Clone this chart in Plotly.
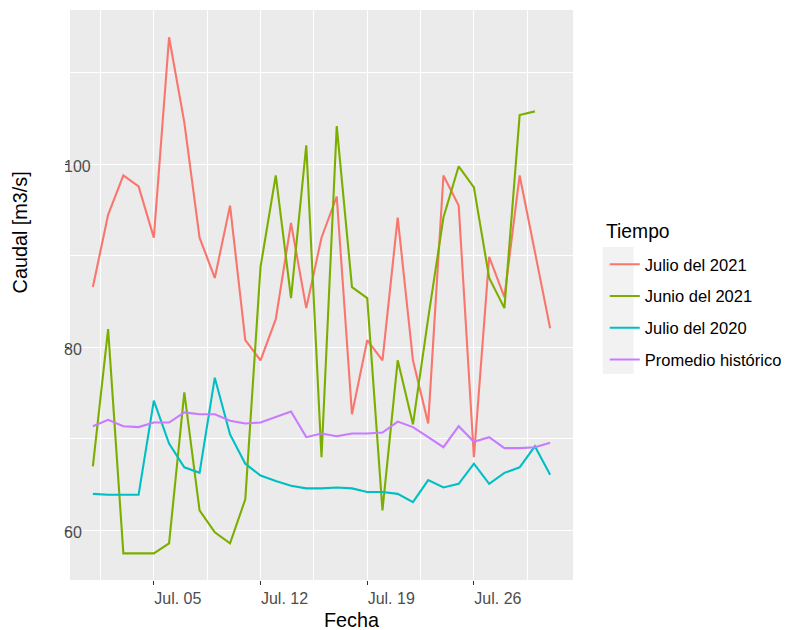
import pandas as pd
import plotly.graph_objects as go

fechas = pd.date_range("2021-07-01", "2021-07-31", freq="D")

julio_2021 = [86.6, 94.5, 98.8, 97.6, 92.0, 113.9, 104.6, 92.0, 87.6, 95.5,
              80.8, 78.6, 83.1, 93.6, 84.3, 92.0, 96.5, 72.7, 80.8, 78.6,
              94.2, 78.6, 71.7, 98.8, 95.5, 68.0, 89.9, 85.5, 98.8, 90.5, 82.1]
junio_2021 = [67.0, 82.0, 57.5, 57.5, 57.5, 58.6, 75.1, 62.2, 59.8, 58.6,
              63.4, 88.8, 98.8, 85.4, 102.1, 68.0, 104.2, 86.6, 85.4, 62.2,
              78.6, 71.6, 83.2, 94.2, 99.8, 97.5, 87.6, 84.3, 105.4, 105.8]
julio_2020 = [64.0, 63.9, 63.9, 63.9, 74.2, 69.5, 66.9, 66.3, 76.7, 70.5,
              67.3, 66.0, 65.4, 64.9, 64.6, 64.6, 64.7, 64.6, 64.2, 64.2,
              64.0, 63.1, 65.5, 64.7, 65.1, 67.3, 65.1, 66.3, 66.9, 69.2, 66.1]
promedio = [71.4, 72.1, 71.4, 71.3, 71.8, 71.8, 72.9, 72.7, 72.7, 72.0,
            71.7, 71.8, 72.4, 73.0, 70.2, 70.6, 70.3, 70.6, 70.6, 70.7,
            71.9, 71.3, 70.2, 69.1, 71.4, 69.7, 70.2, 69.0, 69.0, 69.1, 69.6]

series_names = ["Julio del 2021", "Junio del 2021", "Julio del 2020", "Promedio histórico"]
series_values = [julio_2021, junio_2021, julio_2020, promedio]
colors = ["#F8766D", "#7CAE00", "#00BFC4", "#C77CFF"]

y_ticks = [60, 80, 100]
y_tick_labels = ["60", "80", "100"]

FONT = "Liberation Sans, Arial, sans-serif"
DAY = 86400000

# page has an 8px body margin: figure is 781x622, plot area at (62..569, 2..572)
W, H = 781, 622
L, R, T, B = 62, 212, 2, 50
PW, PH = W - L - R, H - T - B


def px_x(x):  # figure x pixel -> paper
    return (x - L) / PW


def px_y(y):  # figure y pixel -> paper
    return (H - B - y) / PH


fig = go.Figure()
for name, vals, col in zip(series_names, series_values, colors):
    fig.add_trace(go.Scatter(
        x=fechas[:len(vals)], y=vals, mode="lines", name=name,
        legendgroup=name,
        line=dict(color=col, width=2.1),
    ))

annotations = [
    dict(text="Fecha", xref="paper", yref="paper", x=0.5, y=px_y(612),
         xanchor="left", yanchor="middle", showarrow=False,
         font=dict(size=19.8, color="black", family=FONT)),
    dict(text="Caudal [m3/s]", xref="paper", yref="paper", x=px_x(12), y=0.5,
         xanchor="center", yanchor="bottom", textangle=-90, showarrow=False,
         font=dict(size=19.8, color="black", family=FONT)),
    dict(text="Tiempo", xref="paper", yref="paper", x=px_x(600), y=px_y(223),
         xanchor="left", yanchor="middle", showarrow=False,
         font=dict(size=19.3, color="black", family=FONT)),
]
# y tick labels (left-aligned, overlapping the tick marks as in the reference)
for v, lab in zip(y_ticks, y_tick_labels):
    annotations.append(dict(
        text=lab, xref="paper", yref="y", x=px_x(54), y=v,
        xanchor="left", yanchor="middle", yshift=-2, showarrow=False,
        font=dict(size=16, color="#4D4D4D", family=FONT)))

fig.update_layout(
    width=W, height=H,
    margin=dict(l=L, r=R, t=T, b=B, pad=0),
    paper_bgcolor="white",
    plot_bgcolor="#EBEBEB",
    font=dict(family=FONT, color="#4D4D4D"),
    showlegend=True,
    legend=dict(
        font=dict(size=16.5, color="black", family=FONT),
        x=px_x(601), xanchor="left", y=px_y(239), yanchor="top",
        bgcolor="rgba(0,0,0,0)", borderwidth=0,
        tracegroupgap=7.3,
    ),
    xaxis=dict(
        range=["2021-06-29 12:00", "2021-08-01 12:00"],
        type="date",
        tick0="2021-07-05", dtick=7 * DAY,
        tickformat="%b. %d",
        showgrid=True, gridcolor="white", gridwidth=1.2,
        minor=dict(dtick=3.5 * DAY, tick0="2021-07-05", showgrid=True,
                   gridcolor="white", gridwidth=0.6, ticks=""),
        ticks="outside", ticklen=4, tickcolor="#333333", tickwidth=1,
        tickfont=dict(size=16, color="#4D4D4D", family=FONT),
        ticklabelshift=24,
        zeroline=False, showline=False,
    ),
    yaxis=dict(
        range=[54.59, 116.88],
        tickvals=y_ticks,
        showticklabels=False,
        showgrid=True, gridcolor="white", gridwidth=1.2,
        minor=dict(dtick=10, tick0=60, showgrid=True,
                   gridcolor="white", gridwidth=0.6, ticks=""),
        ticks="outside", ticklen=4, tickcolor="#333333", tickwidth=1,
        zeroline=False, showline=False,
    ),
    annotations=annotations,
    shapes=[
        dict(type="rect", xref="paper", yref="paper",
             x0=px_x(599), x1=px_x(630),
             y0=px_y(366), y1=px_y(239),
             fillcolor="#F2F2F2", line=dict(width=0), layer="below"),
    ],
)

fig.write_html("out.html")
